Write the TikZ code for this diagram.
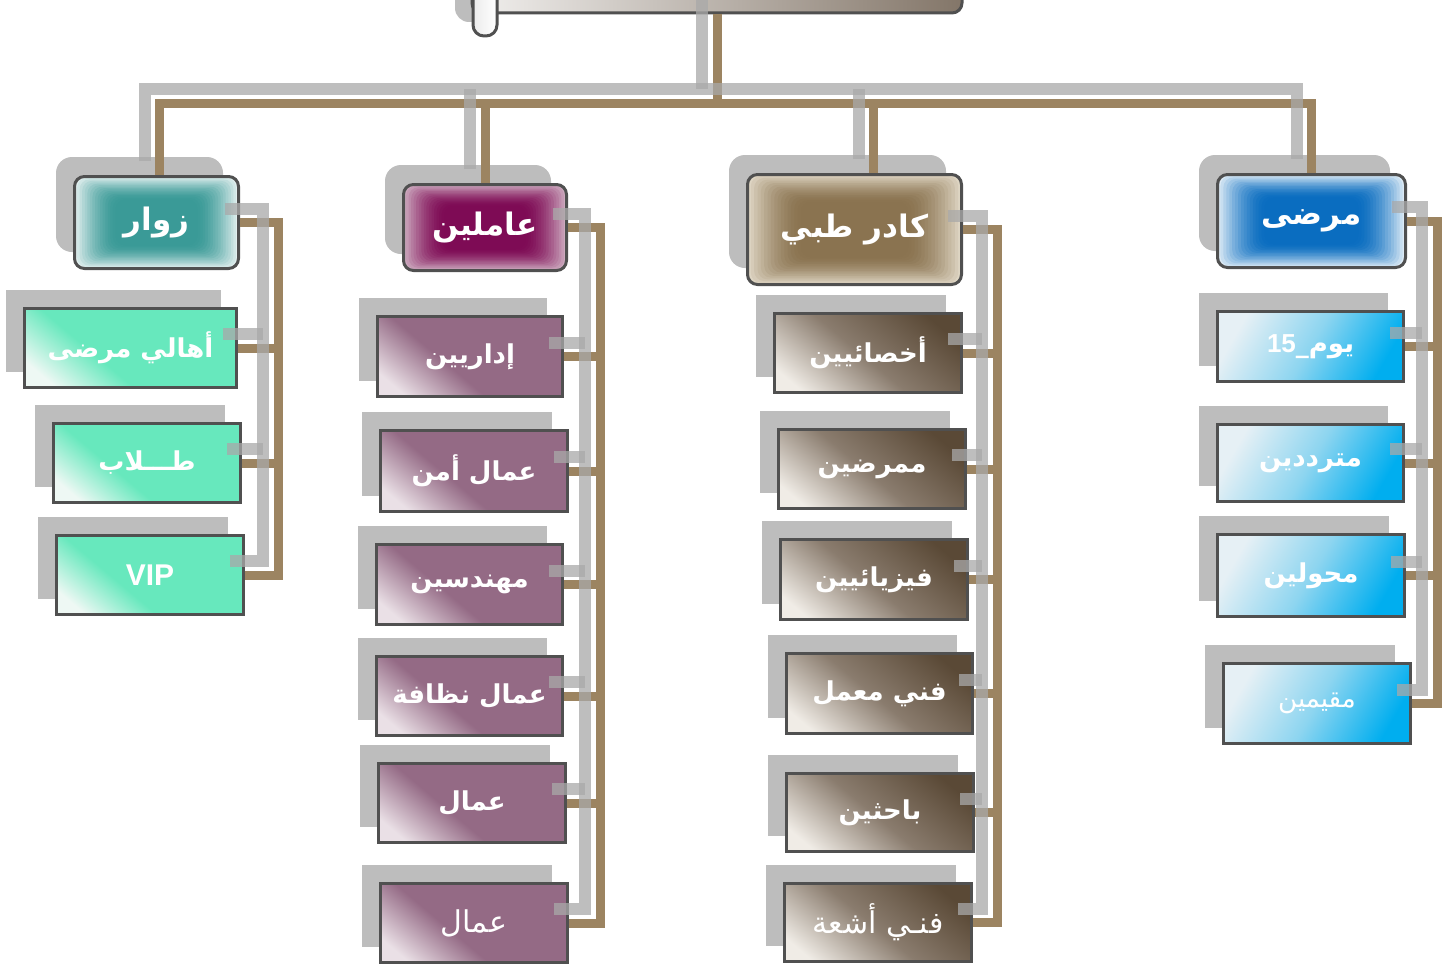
\documentclass[tikz,border=0pt]{standalone}
\usepackage{fontspec}
\usetikzlibrary{calc,backgrounds}
\newfontfamily\arabicfont[Script=Arabic]{DejaVu Sans}
\newfontfamily\latinfont{Liberation Sans}
\TeXXeTstate=1
\newcommand\rl[1]{\beginR#1\endR}

\definecolor{frame}{HTML}{505050}
\definecolor{shadowgray}{HTML}{BDBDBD}
\definecolor{wire}{HTML}{9C8461}
\definecolor{greywire}{HTML}{A9A9A9}
% header colours: centre / edge
\definecolor{tealC}{HTML}{3A9A97}\definecolor{tealE}{HTML}{E2EFEF}
\definecolor{plumC}{HTML}{7E0B55}\definecolor{plumE}{HTML}{CDAABF}
\definecolor{tanC}{HTML}{8A7350}\definecolor{tanE}{HTML}{DED5C3}
\definecolor{azureC}{HTML}{0A6DC0}\definecolor{azureE}{HTML}{DCEAF5}
% box colours
\definecolor{mint}{HTML}{67E8BD}\definecolor{mintL}{HTML}{EEF8F4}
\definecolor{mauve}{HTML}{946A85}\definecolor{mauveL}{HTML}{EAE0E6}
\definecolor{umberD}{HTML}{5A4936}\definecolor{umberM}{HTML}{8A7C6E}\definecolor{umberL}{HTML}{F0ECE6}
\definecolor{skyD}{HTML}{00AEEF}\definecolor{skyM}{HTML}{8DD5F0}\definecolor{skyL}{HTML}{E6F0F5}

% diagonal fills: light corner at the start, main colour for the rest
\pgfdeclareverticalshading{mintfade}{100bp}{color(0bp)=(mintL); color(22bp)=(mintL); color(40bp)=(mint); color(100bp)=(mint)}
\pgfdeclareverticalshading{mauvefade}{100bp}{color(0bp)=(mauveL); color(22bp)=(mauveL); color(42bp)=(mauve); color(100bp)=(mauve)}
\pgfdeclareverticalshading{umberfade}{100bp}{color(0bp)=(umberL); color(22bp)=(umberL); color(48bp)=(umberM); color(76bp)=(umberD); color(100bp)=(umberD)}
\pgfdeclareverticalshading{skyfade}{100bp}{color(0bp)=(skyD); color(25bp)=(skyD); color(50bp)=(skyM); color(75bp)=(skyL); color(100bp)=(skyL)}

\tikzset{
  framed/.style={draw=frame, line width=3pt, inner sep=0pt, text=white},
  hdr/.style n args={4}{framed, rounded corners=10pt,
    minimum width=#1, minimum height=#2,
    font=\arabicfont\bfseries\fontsize{31}{36}\selectfont,
    path picture={
      \foreach \k in {0,...,16}{
        \pgfmathsetmacro\f{0.5*\k/16}
        \pgfmathtruncatemacro\p{100*(1-\k/16)^1.6}
        \fill[#4!\p!#3]
          ($(path picture bounding box.south west)!\f!(path picture bounding box.center)$)
          rectangle
          ($(path picture bounding box.north east)!\f!(path picture bounding box.center)$);
      }}},
  kid/.style 2 args={framed, minimum width=#1, minimum height=#2,
    font=\arabicfont\bfseries\fontsize{26}{30}\selectfont},
  greenbox/.style={shading=mintfade, shading angle=-40},
  plumbox/.style={shading=mauvefade, shading angle=-40},
  brownbox/.style={shading=umberfade, shading angle=-40},
  bluebox/.style={shading=skyfade, shading angle=60},
  thin/.style={font=\arabicfont\fontsize{30}{34}\selectfont},
  brownwire/.style={draw=wire, line width=9pt},
  greyline/.style={draw=greywire, line width=12pt, opacity=0.75,
    transform canvas={shift={(-15,-14)}}},
}

% connectors of the whole chart, drawn once in brown and once in grey (offset)
\newcommand\orgwires[1]{%
  \draw[#1] (root.south) -- (root.south |- tb);
  \draw[#1] (dr1) -- (dr1 |- tb) -- (dr4 |- tb) -- (dr4);
  \draw[#1] (dr2) -- (dr2 |- tb);
  \draw[#1] (dr3) -- (dr3 |- tb);
  % visitors
  \draw[#1] (h1.east) -- (h1.east -| bus1) -- (bus1 |- a3.east) -- (a3.east);
  \foreach \n in {a1,a2}{\draw[#1] (\n.east) -- (\n.east -| bus1);}
  % staff
  \draw[#1] (h2.east) -- (h2.east -| bus2) -- (bus2 |- b6.east) -- (b6.east);
  \foreach \n in {b1,b2,b3,b4,b5}{\draw[#1] (\n.east) -- (\n.east -| bus2);}
  % medical staff
  \draw[#1] (h3.east) -- (h3.east -| bus3) -- (bus3 |- c6.east) -- (c6.east);
  \foreach \n in {c1,c2,c3,c4,c5}{\draw[#1] (\n.east) -- (\n.east -| bus3);}
  % patients
  \draw[#1] (h4.east) -- (h4.east -| bus4) -- (bus4 |- d4.east) -- (d4.east);
  \foreach \n in {d1,d2,d3}{\draw[#1] (\n.east) -- (\n.east -| bus4);}
}

\begin{document}
\begin{tikzpicture}[x=1pt,y=-1pt]
\useasboundingbox (0,0) rectangle (1455,966);

% top box (mostly above the page)
\node[framed, rounded corners=10pt, minimum width=490pt, minimum height=60pt,
      left color=white!88!umberM, right color=umberM!95!black] (root) at (717,-17) {};
\draw[frame, line width=3pt, rounded corners=11pt, left color=white!85!gray, right color=white]
  (473,-40) rectangle (497,36);

% column headers
\node[hdr={164pt}{92pt}{tealC}{tealE}]   (h1) at (156.5,222.5) {\rl{زوار}};
\node[hdr={163pt}{86pt}{plumC}{plumE}]   (h2) at (485,227.5)   {\rl{عاملين}};
\node[hdr={214pt}{110pt}{tanC}{tanE}]    (h3) at (854.5,229.5) {\rl{كادر طبي}};
\node[hdr={188pt}{93pt}{azureC}{azureE}] (h4) at (1311.5,221)  {\rl{مرضى}};

% visitors
\node[kid={212pt}{79pt}, greenbox] (a1) at (130.5,348) {\rl{أهالي مرضى}};
\node[kid={187pt}{79pt}, greenbox] (a2) at (147,463)   {\rl{طـــلاب}};
\node[kid={187pt}{79pt}, greenbox] (a3) at (150,575)   {\latinfont\bfseries\fontsize{30}{34}\selectfont VIP};

% staff
\node[kid={185pt}{80pt}, plumbox] (b1) at (470,356.5) {\rl{إداريين}};
\node[kid={187pt}{81pt}, plumbox] (b2) at (474,471)   {\rl{عمال أمن}};
\node[kid={186pt}{80pt}, plumbox] (b3) at (469.5,584.5) {\rl{مهندسين}};
\node[kid={186pt}{79pt}, plumbox] (b4) at (469.5,696) {\rl{عمال نظافة}};
\node[kid={187pt}{79pt}, plumbox] (b5) at (472,803)   {\rl{عمال}};
\node[kid={187pt}{79pt}, plumbox, thin] (b6) at (474,923) {\rl{عمال}};

% medical staff
\node[kid={187pt}{79pt}, brownbox] (c1) at (868,353)   {\rl{أخصائيين}};
\node[kid={187pt}{79pt}, brownbox] (c2) at (872,469)   {\rl{ممرضين}};
\node[kid={187pt}{80pt}, brownbox] (c3) at (874,579.5) {\rl{فيزيائيين}};
\node[kid={186pt}{80pt}, brownbox] (c4) at (879.5,693.5) {\rl{فني معمل}};
\node[kid={187pt}{78pt}, brownbox] (c5) at (880,812.5) {\rl{باحثين}};
\node[kid={187pt}{78pt}, brownbox, thin] (c6) at (878,922.5) {\rl{فنـي أشعة}};

% patients
\node[kid={186pt}{70pt}, bluebox] (d1) at (1310.5,346.5) {\rl{يوم\_\beginL{\latinfont\bfseries 15}\endL}};
\node[kid={186pt}{77pt}, bluebox] (d2) at (1310.5,463)   {\rl{مترددين}};
\node[kid={187pt}{82pt}, bluebox] (d3) at (1311,575.5)   {\rl{محولين}};
\node[kid={187pt}{80pt}, bluebox, font=\arabicfont\fontsize{26}{30}\selectfont] (d4) at (1317,703.5) {\rl{مقيمين}};

% connector anchors
\coordinate (tb) at (0,103);
\coordinate (bus1) at (278,0);
\coordinate (bus2) at (600,0);
\coordinate (bus3) at (997,0);
\coordinate (bus4) at (1437,0);
\coordinate (dr1) at ([xshift=3pt]h1.north);
\coordinate (dr2) at (h2.north);
\coordinate (dr3) at ([xshift=19pt]h3.north);
\coordinate (dr4) at (h4.north);

% flat shadows behind the boxes
\begin{scope}[on background layer]
  \fill[white] (0,0) rectangle (1455,966);
  \fill[shadowgray, rounded corners=14pt] (455,-40) rectangle (500,22);
  \foreach \n in {h1,h2,h3,h4}
    \fill[shadowgray, rounded corners=16pt]
      ([shift={(-17,-18)}]\n.south west) rectangle ([shift={(-17,-18)}]\n.north east);
  \foreach \n in {a1,a2,a3,b1,b2,b3,b4,b5,b6,c1,c2,c3,c4,c5,c6,d1,d2,d3,d4}
    \fill[shadowgray]
      ([shift={(-17,-17)}]\n.south west) rectangle ([shift={(-17,-17)}]\n.north east);
\end{scope}

\orgwires{brownwire}
\orgwires{greyline}
\end{tikzpicture}
\end{document}
